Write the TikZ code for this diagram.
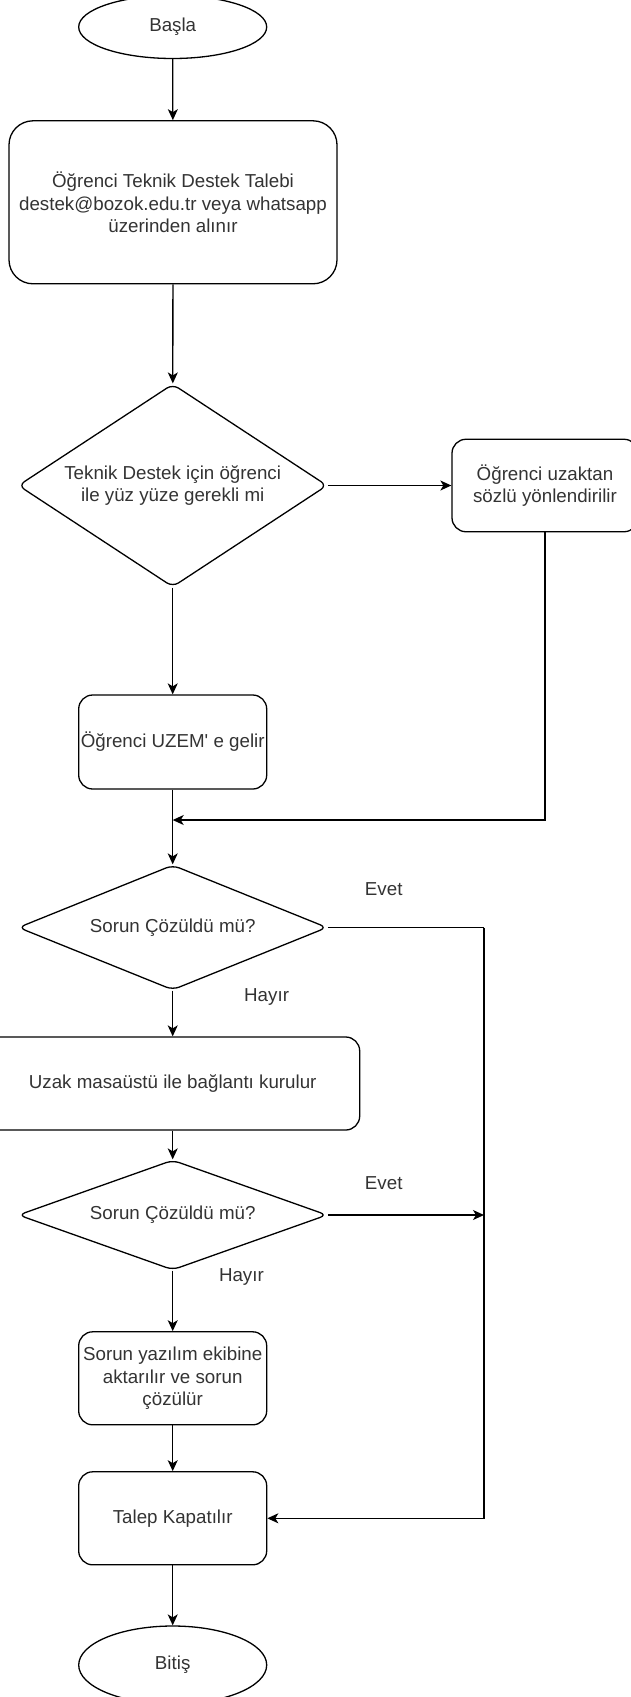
\documentclass[tikz,border=0pt]{standalone}
\usepackage{fontspec}
\setmainfont{Liberation Sans}
\usetikzlibrary{shapes.geometric,arrows.meta}

\begin{document}
\begin{tikzpicture}[x=1pt, y=-1pt, line width=1.3pt,
	font=\fontsize{18.75}{22.5}\selectfont,
	>={Stealth[length=11pt,width=10pt,inset=3pt]},
	kutu/.style={draw, rectangle, rounded corners=14pt, minimum width=188pt, minimum height=93pt, inner sep=0pt, align=center, text=black!80},
	karar/.style={draw, diamond, rounded corners=7pt, minimum width=309pt, inner sep=0pt, align=center, text=black!80},
	uc/.style={draw, ellipse, minimum width=188pt, inner sep=0pt, text=black!80},
	etiket/.style={text=black!80}]% {{{ destek akisi
	\useasboundingbox (0,0) rectangle (630,1697);

	\node[uc, minimum height=63pt] (basla) at (172.7, 27) {Başla};
	\node[kutu, rounded corners=24pt, minimum width=328pt, minimum height=163pt] (talep) at (173, 202.3) {Öğrenci Teknik Destek Talebi\\destek@bozok.edu.tr veya whatsapp\\üzerinden alınır};
	\node[karar, minimum height=203pt, shape aspect=1.52] (yuzyuze) at (172.7, 485.5) {Teknik Destek için öğrenci\\ile yüz yüze gerekli mi};
	\node[kutu, minimum width=186pt, minimum height=92.5pt] (uzaktan) at (545, 485.5) {Öğrenci uzaktan\\sözlü yönlendirilir};
	\node[kutu, minimum height=94pt] (uzem) at (172.7, 742) {Öğrenci UZEM\textquotesingle{} e gelir};
	\coordinate (birles) at (172.7, 820);

	\node[karar, minimum height=125pt, shape aspect=2.47] (cozum1) at (172.7, 927.5) {Sorun Çözüldü mü?};
	\node[kutu, minimum width=374pt] (uzakmasa) at (172.7, 1083.5) {Uzak masaüstü ile bağlantı kurulur};
	\node[karar, minimum height=110pt, shape aspect=2.8] (cozum2) at (172.7, 1215) {Sorun Çözüldü mü?};
	\node[kutu] (yazilim) at (172.7, 1378.3) {Sorun yazılım ekibine\\aktarılır ve sorun\\çözülür};
	\node[kutu] (kapat) at (172.7, 1518.3) {Talep Kapatılır};
	\node[uc, minimum height=78pt] (bitis) at (172.7, 1665) {Bitiş};
	\coordinate (sag) at (484, 927.5);

	\node[etiket] (evet1) at (383.7, 889) {Evet};
	\node[etiket] (hayir1) at (266.6, 997) {Hayır};
	\node[etiket] (evet2) at (383.7, 1183) {Evet};
	\node[etiket] (hayir2) at (241.4, 1277) {Hayır};

	\draw[->] (basla) -- (talep);
	\draw[->] (talep) -- (yuzyuze);
	\draw[->] (yuzyuze.east) -- (uzaktan.west);
	\draw[->] (yuzyuze.south) -- (uzem.north);
	\draw[->] (uzaktan.south) |- (birles);
	\draw[->] (uzem.south) -- (cozum1.north);
	\draw (cozum1.east) -- (sag);
	\draw[->] (sag) |- (kapat.east);
	\draw[->] (cozum1.south) -- (uzakmasa.north);
	\draw[->] (uzakmasa.south) -- (cozum2.north);
	\draw[->] (cozum2.east) -- (cozum2.east -| sag);
	\draw[->] (cozum2.south) -- (yazilim.north);
	\draw[->] (yazilim.south) -- (kapat.north);
	\draw[->] (kapat.south) -- (bitis.north);
\end{tikzpicture}% }}}
\end{document}
